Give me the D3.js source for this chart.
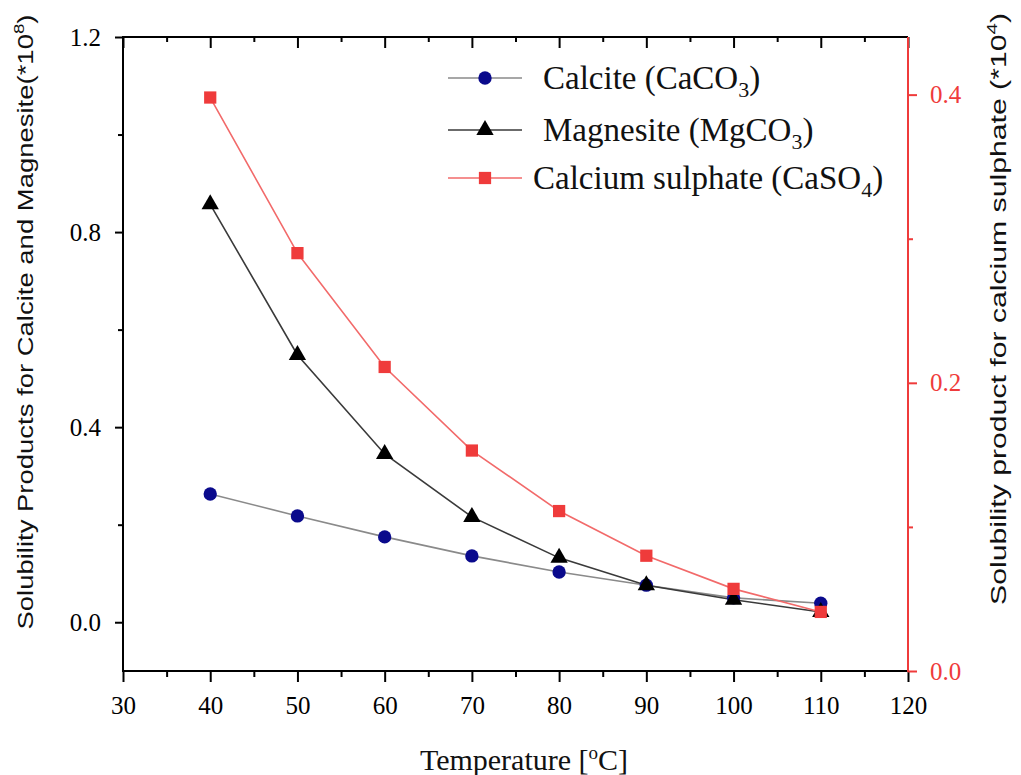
<html>
<head>
<meta charset="utf-8">
<script src="https://d3js.org/d3.v7.min.js"></script>
<style>
  body { margin: 0; background: #fff; }
  text { font-family: "Liberation Serif", "Times New Roman", serif; }
</style>
</head>
<body>
<svg id="page"></svg>
<script>
// data
var temps = [40, 50, 60, 70, 80, 90, 100, 110];
var calcite = [0.263, 0.218, 0.175, 0.136, 0.103, 0.076, 0.050, 0.039];
var magnesite = [0.857, 0.548, 0.345, 0.216, 0.132, 0.076, 0.046, 0.021];
var caso4 = [0.398, 0.290, 0.211, 0.153, 0.111, 0.080, 0.057, 0.041];

var xTicks = [30, 40, 50, 60, 70, 80, 90, 100, 110, 120];
var xMinor = [35, 45, 55, 65, 75, 85, 95, 105, 115];
var leftTicks = [0.0, 0.4, 0.8, 1.2];
var leftMinor = [0.2, 0.6, 1.0];
var rightTicks = [0.0, 0.2, 0.4];
var rightMinor = [0.1, 0.3];

var svg = d3.select("#page").attr("width", 1021).attr("height", 775);

var L = 123, R = 908, T = 37, B = 671;
var x = d3.scaleLinear().domain([30, 120]).range([L, R]);
var yL = d3.scaleLinear().domain([-0.1, 1.2]).range([B, T]);
var yR = d3.scaleLinear().domain([0, 0.44]).range([B, T]);
var fmt = d3.format(".1f");
var red = "#ef3b3b";

// axes
function styleAxis(g, color) {
  g.attr("font-family", null).attr("font-size", null);
  g.select(".domain").remove();
  g.selectAll("line").attr("stroke", color).attr("stroke-width", 2);
  g.selectAll("text").attr("fill", color)
    .attr("font-family", "Liberation Serif")
    .attr("font-size", 25);
}

svg.append("g").attr("transform", "translate(0," + B + ")")
  .call(d3.axisBottom(x).tickValues(xTicks).tickSize(11).tickPadding(14).tickFormat(d3.format("d")))
  .call(styleAxis, "#000");
svg.append("g").attr("transform", "translate(0," + B + ")")
  .call(d3.axisBottom(x).tickValues(xMinor).tickSize(6).tickFormat(""))
  .call(styleAxis, "#000");
// top mirror ticks pointing in
svg.append("g").attr("transform", "translate(0," + T + ")")
  .call(d3.axisBottom(x).tickValues(xTicks).tickSize(11).tickFormat(""))
  .call(styleAxis, "#000");
svg.append("g").attr("transform", "translate(0," + T + ")")
  .call(d3.axisBottom(x).tickValues(xMinor).tickSize(5).tickFormat(""))
  .call(styleAxis, "#000");

svg.append("g").attr("transform", "translate(" + L + ",0)")
  .call(d3.axisLeft(yL).tickValues(leftTicks).tickSize(8).tickPadding(14).tickFormat(fmt))
  .call(styleAxis, "#000");
svg.append("g").attr("transform", "translate(" + L + ",0)")
  .call(d3.axisLeft(yL).tickValues(leftMinor).tickSize(5).tickFormat(""))
  .call(styleAxis, "#000");

svg.append("g").attr("transform", "translate(" + R + ",0)")
  .call(d3.axisRight(yR).tickValues(rightTicks).tickSize(9).tickPadding(13).tickFormat(fmt))
  .call(styleAxis, red);
svg.append("g").attr("transform", "translate(" + R + ",0)")
  .call(d3.axisRight(yR).tickValues(rightMinor).tickSize(5).tickFormat(""))
  .call(styleAxis, red);

// frame
svg.append("line").attr("x1", L).attr("x2", L).attr("y1", T - 1).attr("y2", B + 1)
  .attr("stroke", "#000").attr("stroke-width", 2);
svg.append("line").attr("x1", L).attr("x2", R).attr("y1", B).attr("y2", B)
  .attr("stroke", "#000").attr("stroke-width", 2);
svg.append("line").attr("x1", L).attr("x2", R).attr("y1", T).attr("y2", T)
  .attr("stroke", "#000").attr("stroke-width", 2);
svg.append("line").attr("x1", R).attr("x2", R).attr("y1", T).attr("y2", B + 1)
  .attr("stroke", red).attr("stroke-width", 2);

// series
var series = [
  { name: "calcite", vals: calcite, y: yL, line: "#8a8a8a", mark: "#0a0a8c", sym: d3.symbolCircle, size: 140 },
  { name: "magnesite", vals: magnesite, y: yL, line: "#3a3a3a", mark: "#000", sym: d3.symbolTriangle, size: 130 },
  { name: "caso4", vals: caso4, y: yR, line: "#f26a6a", mark: red, sym: d3.symbolSquare, size: 150 }
];

series.forEach(function (s) {
  var pts = temps.map(function (t, i) { return [x(t), s.y(s.vals[i])]; });
  svg.append("path").attr("d", d3.line()(pts))
    .attr("fill", "none").attr("stroke", s.line).attr("stroke-width", 1.6);
});
series.forEach(function (s) {
  svg.selectAll(null).data(temps).enter().append("path")
    .attr("d", d3.symbol().type(s.sym).size(s.size))
    .attr("transform", function (t, i) { return "translate(" + x(t) + "," + s.y(s.vals[i]) + ")"; })
    .attr("fill", s.mark);
});

// legend
var legend = [
  { y: 78, tx: 543, main: "Calcite (CaCO", sub: "3", s: series[0] },
  { y: 130, tx: 543, main: "Magnesite (MgCO", sub: "3", s: series[1] },
  { y: 178, tx: 533, main: "Calcium sulphate (CaSO", sub: "4", s: series[2] }
];
legend.forEach(function (d) {
  svg.append("line").attr("x1", 448).attr("x2", 522).attr("y1", d.y).attr("y2", d.y)
    .attr("stroke", d.s.line).attr("stroke-width", 1.6);
  svg.append("path").attr("d", d3.symbol().type(d.s.sym).size(d.s.size))
    .attr("transform", "translate(485," + d.y + ")").attr("fill", d.s.mark);
  var t = svg.append("text").attr("x", d.tx).attr("y", d.y + 11).style("font-size", "33px").attr("fill", "#111");
  t.append("tspan").text(d.main);
  t.append("tspan").attr("dy", 8).style("font-size", "22px").text(d.sub);
  t.append("tspan").attr("dy", -8).text(")");
});

// axis titles
var xt = svg.append("text").attr("x", 524).attr("y", 770).attr("text-anchor", "middle")
  .style("font-size", "30px").attr("fill", "#111");
xt.append("tspan").text("Temperature [");
xt.append("tspan").attr("dy", -11).style("font-size", "19px").text("o");
xt.append("tspan").attr("dy", 11).text("C]");

var yl = svg.append("text").attr("transform", "translate(33,322) rotate(-90)")
  .attr("text-anchor", "middle").attr("textLength", 615).attr("lengthAdjust", "spacingAndGlyphs")
  .style("font-family", "'Liberation Sans', Arial, sans-serif").style("font-size", "22px").attr("fill", "#111");
yl.append("tspan").text("Solubility Products for Calcite and Magnesite(*10");
yl.append("tspan").attr("dy", -9).style("font-size", "15px").text("8");
yl.append("tspan").attr("dy", 9).text(")");

var yr = svg.append("text").attr("transform", "translate(1006,309) rotate(-90)")
  .attr("text-anchor", "middle").attr("textLength", 592).attr("lengthAdjust", "spacingAndGlyphs")
  .style("font-family", "'Liberation Sans', Arial, sans-serif").style("font-size", "22px").attr("fill", "#111");
yr.append("tspan").text("Solubility product for calcium sulphate (*10");
yr.append("tspan").attr("dy", -9).style("font-size", "15px").text("4");
yr.append("tspan").attr("dy", 9).text(")");
</script>
</body>
</html>
